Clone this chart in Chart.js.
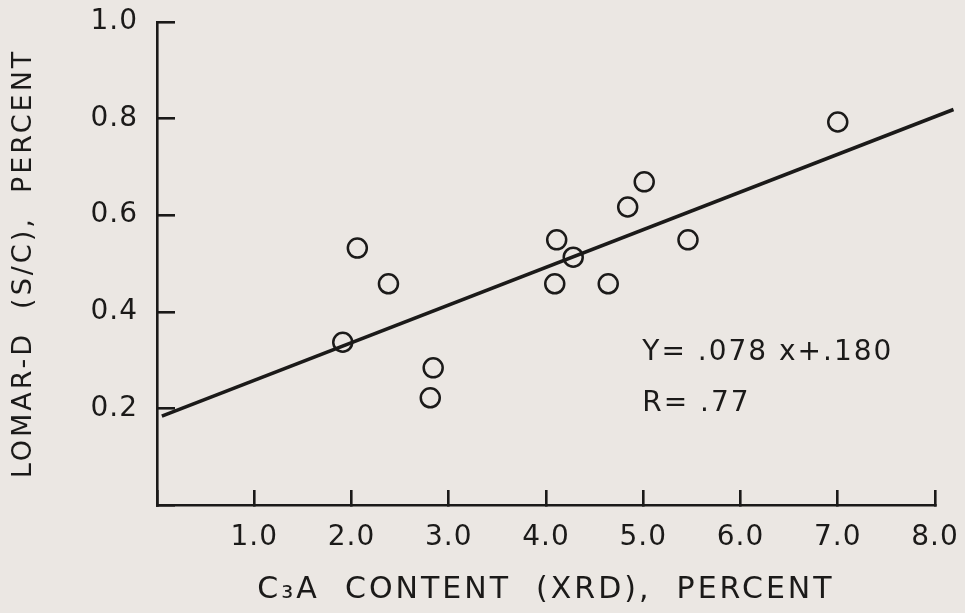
<!DOCTYPE html>
<html>
<head>
<meta charset="utf-8">
<script src="https://cdn.jsdelivr.net/npm/chart.js@4.4.1/dist/chart.umd.min.js"></script>
<style>
  html, body { margin: 0; padding: 0; background: #ebe7e3; }
  canvas { display: block; }
</style>
</head>
<body>
<canvas id="myChart" width="965" height="613"></canvas>
<script>
const ctx = document.getElementById('myChart');

// C3A content (XRD) and Lomar-D (S/C), both in percent
const c3aContent = [1.91, 2.06, 2.38, 2.84, 2.81, 4.11, 4.28, 4.09, 4.64, 4.84, 5.01, 5.46, 7.00];
const lomarD     = [0.337, 0.532, 0.458, 0.284, 0.222, 0.549, 0.513, 0.458, 0.458, 0.617, 0.669, 0.549, 0.793];

// regression Y = .078 X + .180, drawn between these x values
const fitSlope = 0.078;
const fitIntercept = 0.180;
const fitRange = [0.05, 8.19];
const fitLabel = ['Y= .078 x+.180', 'R= .77'];

const xTickLabels = ['1.0', '2.0', '3.0', '4.0', '5.0', '6.0', '7.0', '8.0'];
const yTickLabels = ['0.2', '0.4', '0.6', '0.8', '1.0'];

const ink = '#1b1a19';
const police = 'DejaVu Sans';

const points = c3aContent.map((x, i) => ({ x: x, y: lomarD[i] }));
const fitLine = fitRange.map(x => ({ x: x, y: fitSlope * x + fitIntercept }));

// les étiquettes ne doivent pas rétrécir la zone du graphique
function sansMarge(scale) {
  scale.paddingTop = 0;
  scale.paddingBottom = 0;
  scale.paddingLeft = 0;
  scale.paddingRight = 0;
}

// lettrage espacé pour les titres des axes (dessinés avant les données),
// plus serré pour les graduations (dessinées après, z: 1)
const espacement = {
  id: 'espacement',
  beforeUpdate(chart) { chart.ctx.letterSpacing = '3px'; },
  beforeDraw(chart) { chart.ctx.letterSpacing = '3px'; },
  afterDatasetsDraw(chart) { chart.ctx.letterSpacing = '1px'; }
};

// équation de la droite et coefficient de corrélation
const equation = {
  id: 'equation',
  afterDatasetsDraw(chart) {
    const c = chart.ctx;
    const x = chart.scales.x.getPixelForValue(4.99);
    c.save();
    c.fillStyle = ink;
    c.font = '28px "' + police + '"';
    c.letterSpacing = '2px';
    c.textAlign = 'left';
    c.textBaseline = 'middle';
    c.fillText(fitLabel[0], x, chart.scales.y.getPixelForValue(0.316));
    c.fillText(fitLabel[1], x, chart.scales.y.getPixelForValue(0.21));
    c.restore();
  }
};

new Chart(ctx, {
  type: 'scatter',
  data: {
    datasets: [
      {
        label: 'mesures',
        data: points,
        pointStyle: 'circle',
        pointRadius: 9.5,
        pointHoverRadius: 9.5,
        pointBorderWidth: 2.5,
        pointBackgroundColor: 'rgba(0,0,0,0)',
        pointBorderColor: ink
      },
      {
        label: 'régression',
        data: fitLine,
        showLine: true,
        pointRadius: 0,
        borderWidth: 3.6,
        borderColor: ink,
        clip: false
      }
    ]
  },
  options: {
    responsive: false,
    animation: false,
    events: [],
    layout: { padding: { left: 0, top: 22, right: 30, bottom: 0 } },
    plugins: {
      legend: { display: false },
      tooltip: { enabled: false }
    },
    scales: {
      x: {
        type: 'linear',
        min: 0,
        max: 8,
        afterFit(scale) { scale.height = 108; sansMarge(scale); },
        border: { display: true, color: ink, width: 2.6 },
        grid: { drawOnChartArea: false, drawTicks: true, tickLength: -15, color: ink, lineWidth: 2.6 },
        ticks: {
          z: 1,
          stepSize: 1,
          padding: 31,
          color: ink,
          font: { family: police, size: 28 },
          maxRotation: 0,
          callback: (v, i) => (i === 0 ? '' : xTickLabels[i - 1])
        },
        title: {
          display: true,
          text: 'C₃A  CONTENT  (XRD),  PERCENT',
          color: ink,
          font: { family: police, size: 30 },
          padding: { top: 0, bottom: 5 }
        }
      },
      y: {
        type: 'linear',
        min: 0,
        max: 1,
        afterFit(scale) { scale.width = 157; sansMarge(scale); },
        border: { display: true, color: ink, width: 2.6 },
        grid: { drawOnChartArea: false, drawTicks: true, tickLength: -18, color: ink, lineWidth: 2.6 },
        ticks: {
          z: 1,
          stepSize: 0.2,
          padding: 37,
          color: ink,
          font: { family: police, size: 28 },
          callback: (v, i) => (i === 0 ? '' : yTickLabels[i - 1])
        },
        title: {
          display: true,
          text: 'LOMAR-D  (S/C),  PERCENT',
          color: ink,
          font: { family: police, size: 27 },
          padding: { top: 8, bottom: 0 }
        }
      }
    }
  },
  plugins: [espacement, equation]
});
</script>
</body>
</html>
